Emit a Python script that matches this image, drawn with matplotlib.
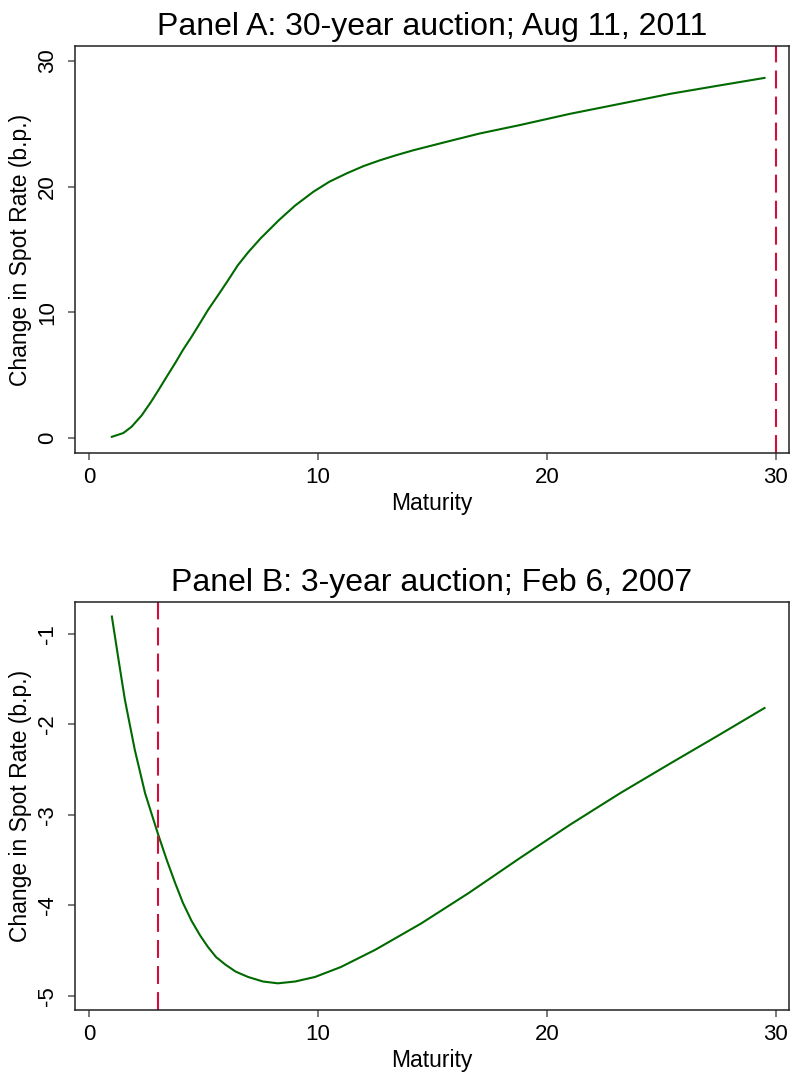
import matplotlib
matplotlib.use("Agg")
import matplotlib.pyplot as plt

plt.rcParams["font.family"] = ["Liberation Sans", "DejaVu Sans"]

# Panel A: 30-year auction, Aug 11, 2011
maturity_a = [1.0, 1.5, 1.86, 2.3, 2.7, 3.03, 3.4, 3.76, 4.1, 4.48, 4.85, 5.2, 5.65,
              6.08, 6.5, 6.96, 7.5, 8.3, 9.0, 9.8, 10.5, 11.25, 12.0, 12.7, 13.4,
              14.16, 15.6, 17.07, 18.8, 21.0, 23.2, 25.4, 27.5, 29.5]
change_a = [0.1, 0.4, 0.9, 1.8, 2.85, 3.8, 4.9, 5.95, 7.0, 8.06, 9.15, 10.2, 11.4,
            12.57, 13.75, 14.8, 15.9, 17.35, 18.5, 19.6, 20.4, 21.06, 21.65, 22.1, 22.5,
            22.9, 23.57, 24.24, 24.9, 25.8, 26.6, 27.4, 28.05, 28.66]
auction_a = 30
yticks_a = [0, 10, 20, 30]

# Panel B: 3-year auction, Feb 6, 2007
maturity_b = [1.0, 1.3, 1.57, 2.0, 2.45, 3.0, 3.4, 3.76, 4.1, 4.48, 4.85, 5.2, 5.55,
              5.94, 6.4, 6.95, 7.6, 8.25, 9.0, 9.87, 11.0, 12.5, 14.5, 16.6, 18.8,
              21.0, 23.2, 25.4, 27.5, 29.5]
change_b = [-0.81, -1.3, -1.73, -2.28, -2.76, -3.2, -3.5, -3.75, -3.97, -4.17, -4.33,
            -4.46, -4.57, -4.65, -4.73, -4.79, -4.84, -4.86, -4.84, -4.79, -4.68,
            -4.49, -4.2, -3.86, -3.48, -3.11, -2.76, -2.43, -2.12, -1.82]
auction_b = 3
yticks_b = [-5, -4, -3, -2, -1]

xticks = [0, 10, 20, 30]

LINE_GREEN = "#006a00"
DASH_RED = "#d0103a"


def draw_panel(ax, x, y, auction, yticks, ylim, title):
    ax.plot(x, y, color=LINE_GREEN, lw=1.5)
    ax.axvline(auction, color=DASH_RED, lw=1.5, ls=(0, (8.6, 3.9)))
    ax.set_xlim(-0.61, 30.57)
    ax.set_ylim(*ylim)
    ax.set_xticks(xticks)
    ax.set_yticks(yticks)
    ax.set_yticklabels([str(v) for v in yticks], rotation=90, va="center")
    ax.tick_params(axis="both", direction="out", length=5, width=1.1,
                   color="#555555", labelsize=16, pad=5)
    ax.tick_params(axis="y", pad=7)
    for spine in ax.spines.values():
        spine.set_color("#222222")
        spine.set_linewidth(1.1)
    ax.set_xlabel("Maturity", fontsize=16.5, labelpad=3)
    ax.set_ylabel("Change in Spot Rate (b.p.)", fontsize=16.5, labelpad=4)
    ax.set_title(title, fontsize=23, pad=8)


fig = plt.figure(figsize=(7.91, 10.72), dpi=100)
ax_a = fig.add_axes([0.0948, 0.5774, 0.9027, 0.3797])
ax_b = fig.add_axes([0.0948, 0.0578, 0.9027, 0.3806])

draw_panel(ax_a, maturity_a, change_a, auction_a, yticks_a, (-1.19, 31.2),
           "Panel A: 30-year auction; Aug 11, 2011")
draw_panel(ax_b, maturity_b, change_b, auction_b, yticks_b, (-5.155, -0.65),
           "Panel B: 3-year auction; Feb 6, 2007")

fig.savefig("out.png", dpi=100)
